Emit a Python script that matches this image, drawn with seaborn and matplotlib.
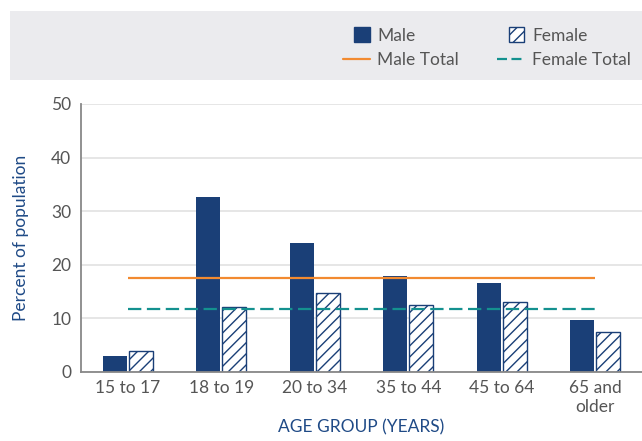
import matplotlib
matplotlib.use("Agg")
import matplotlib.pyplot as plt
import seaborn as sns
import pandas as pd
from matplotlib.patches import Patch, Rectangle
from matplotlib.lines import Line2D
from matplotlib.ticker import FixedLocator
from matplotlib.legend_handler import HandlerPatch

categories = ["15 to 17", "18 to 19", "20 to 34", "35 to 44", "45 to 64", "65 and\nolder"]
male = [3.0, 32.6, 24.1, 17.9, 16.6, 9.7]
female = [3.9, 12.1, 14.7, 12.5, 13.0, 7.5]
male_total = 17.5
female_total = 11.8
yticks = [0, 10, 20, 30, 40, 50]

NAVY = "#1a3f77"
ORANGE = "#f28a30"
TEAL = "#14918f"
GREY_TXT = "#555555"
BLUE_TXT = "#1f4a86"

sns.set_theme(style="white")
plt.rcParams['font.family'] = ['Lato', 'DejaVu Sans']
plt.rcParams['hatch.linewidth'] = 1.0
plt.rcParams['hatch.color'] = NAVY

df = pd.DataFrame({
    "age": categories * 2,
    "pct": male + female,
    "sex": ["Male"] * len(categories) + ["Female"] * len(categories),
})

fig = plt.figure(figsize=(6.42, 4.41), dpi=100)
ax = fig.add_axes([81 / 642, 69 / 441, 1 - 81 / 642, (372 - 104) / 441])

sns.barplot(data=df, x="age", y="pct", hue="sex", order=categories,
            hue_order=["Male", "Female"], palette={"Male": NAVY, "Female": "white"},
            width=0.56, gap=0.08, ax=ax, legend=False, saturation=1)

n = len(categories)
for i, p in enumerate(ax.patches):
    if i < n:
        p.set_linewidth(0)
    elif i < 2 * n:
        p.set_facecolor("white")
        p.set_edgecolor(NAVY)
        p.set_hatch("///")
        p.set_linewidth(1.0)

ax.hlines(male_total, 0, n - 1, color=ORANGE, lw=1.6, zorder=4)
ax.hlines(female_total, 0, n - 1, color=TEAL, lw=1.6, linestyles=(0, (6, 2.5)), zorder=4)

ax.set_xlim(-0.5, n - 0.5)
ax.set_ylim(0, 50)
ax.set_yticks(yticks)
ax.yaxis.grid(True, color="#e2e2e2", lw=1.2)
ax.set_axisbelow(True)
for s in ["top", "right"]:
    ax.spines[s].set_visible(False)
for s in ["left", "bottom"]:
    ax.spines[s].set_color("#888888")
    ax.spines[s].set_linewidth(1.3)

ax.tick_params(axis="y", length=0, labelsize=12.5, labelcolor=GREY_TXT, pad=7)
ax.tick_params(axis="x", which="major", length=0, labelsize=12.5, labelcolor=GREY_TXT, pad=6)
ax.xaxis.set_minor_locator(FixedLocator([i + 0.5 for i in range(n - 1)]))
ax.tick_params(axis="x", which="minor", direction="in", length=6, color="#888888", width=1.3)

ax.set_xlabel("AGE GROUP (YEARS)", fontsize=12.5, color=BLUE_TXT, labelpad=3)
ax.set_ylabel("Percent of population", fontsize=12.5, color=BLUE_TXT, labelpad=16)

# header band
fig.patches.append(Rectangle((10 / 642, 1 - 80 / 441), 1 - 10 / 642, 69 / 441,
                             transform=fig.transFigure, facecolor="#ebebee",
                             edgecolor="none", zorder=0))


def square_patch(legend, orig_handle, xdescent, ydescent, width, height, fontsize):
    s = min(width, height * 1.25)
    return Rectangle((width - s - xdescent, -ydescent + (height - s) / 2 ), s, s)


handles = [
    Patch(facecolor=NAVY, edgecolor=NAVY),
    Line2D([], [], color=ORANGE, lw=1.6),
    Patch(facecolor="white", edgecolor=NAVY, hatch="///"),
    Line2D([], [], color=TEAL, lw=1.6, linestyle=(0, (4.5, 2))),
]
labels = ["Male", "Male Total", "Female", "Female Total"]
leg = fig.legend(handles, labels, ncol=2, loc="upper left",
                 bbox_to_anchor=(327 / 642, 1 - 12 / 441), frameon=False,
                 fontsize=12.5, labelcolor=GREY_TXT, handlelength=1.55,
                 handletextpad=0.45, columnspacing=2.2, labelspacing=0.5,
                 handler_map={Patch: HandlerPatch(patch_func=square_patch)})

fig.savefig("out.png", dpi=100)
